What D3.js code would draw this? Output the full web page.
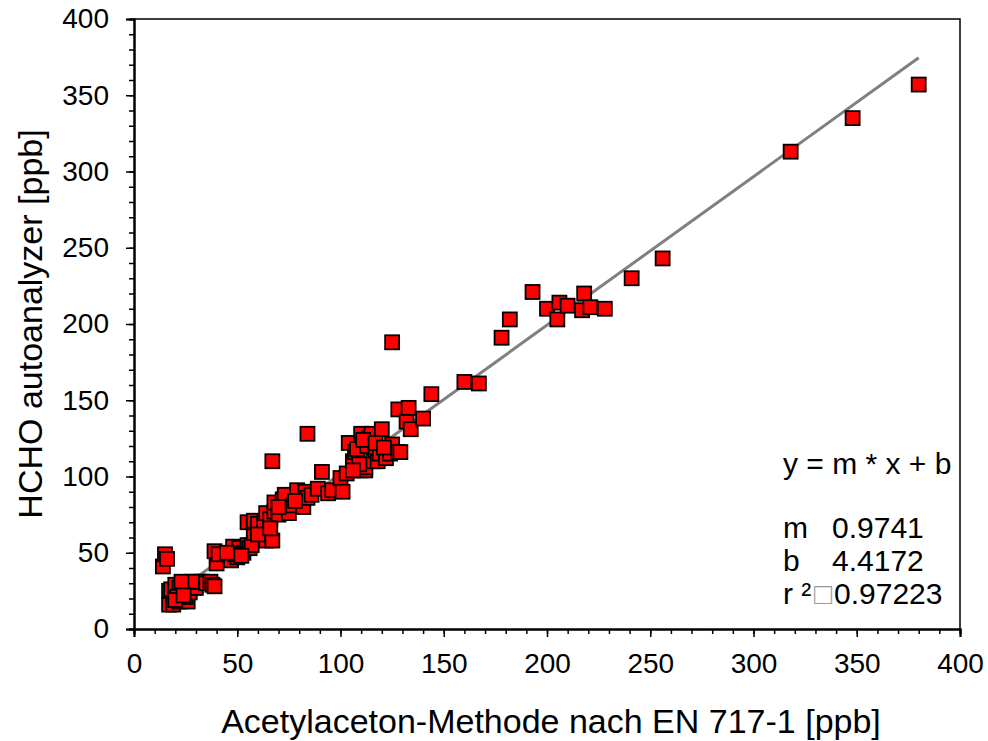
<!DOCTYPE html>
<html>
<head>
<meta charset="utf-8">
<script src="https://cdn.jsdelivr.net/npm/d3@7"></script>
<style>
  body { margin: 0; background: #ffffff; }
  text { font-family: "Liberation Sans", Arial, sans-serif; fill: #000000; }
</style>
</head>
<body>
<div class="containerGraph"></div>
<script>
// measured values: acetylaceton method (x) vs autoanalyzer (y), ppb
var xValues = [14, 15, 16, 17, 17, 19, 22, 26, 25, 21, 18, 20, 22, 24, 26, 27, 29, 30,
               31, 33, 35, 37, 38, 28, 23, 21, 20, 24, 39, 40, 39, 41,
               47, 48, 50, 51, 53, 55, 56, 57, 58, 62, 64, 67, 55, 58, 60, 63, 64, 66,
               68, 70, 68, 72, 73, 75, 77, 79, 80, 82, 83, 84, 86, 89, 91, 94, 96, 100,
               101, 103, 104, 106, 107, 108, 110, 110, 112, 112, 113, 114, 115, 116, 117,
               118, 119, 120, 122, 124, 125, 128, 128, 129, 132, 133, 134, 140, 144, 125,
               84, 67, 109, 111, 106, 117, 121, 60, 70, 78, 49, 45, 52, 66,
               160, 167, 178, 182, 193, 200, 205, 206, 210, 217, 218, 221, 228, 241, 256,
               318, 348, 380];
var yValues = [41, 49, 46, 16, 25, 16, 18, 18, 21, 24, 26, 29, 27, 28, 27, 24, 27, 27,
               31, 31, 30, 31, 29, 31, 31, 21, 19, 22, 28, 43, 51, 49,
               45, 54, 47, 53, 50, 55, 53, 55, 63, 63, 58, 58, 70, 71, 69, 70, 76, 72,
               77, 75, 83, 85, 88, 76, 81, 91, 84, 80, 90, 86, 88, 92, 103, 89, 91, 99,
               90, 102, 122, 110, 116, 118, 128, 104, 104, 106, 120, 125, 128, 110, 117,
               110, 115, 131, 112, 115, 121, 116, 144, 116, 136, 145, 131, 138, 154, 188,
               128, 110, 108, 124, 104, 122, 119, 62, 80, 84, 49, 50, 48, 66,
               162, 161, 191, 203, 221, 210, 203, 214, 212, 209, 220, 211, 210, 230, 243,
               313, 335, 357];

// regression parameters shown in the chart
var fitM = 0.9741;
var fitB = 4.4172;
var fitText = ["y = m * x + b", "m", "0.9741", "b", "4.4172", "r ²", "0.97223"];

// tick values
var majorTicks = [0, 50, 100, 150, 200, 250, 300, 350, 400];
var minorTicks = d3.range(0, 401, 10);

var width = 988;
var height = 741;
var plot = {left: 134, right: 960, top: 19, bottom: 629};

var svg = d3.select(".containerGraph")
            .append("svg")
            .attr("width", width)
            .attr("height", height);

// scales
var xScale = d3.scaleLinear()
               .domain([0, 400])
               .range([plot.left, plot.right]);

var yScale = d3.scaleLinear()
               .domain([0, 400])
               .range([plot.bottom, plot.top]);

// frame on top and right side
svg.append("path")
   .attr("d", "M" + plot.left + "," + plot.top + "H" + plot.right + "V" + plot.bottom)
   .attr("fill", "none")
   .attr("stroke", "#000000")
   .attr("stroke-width", 1.5);

// minor ticks
var xMinor = d3.axisBottom(xScale).tickValues(minorTicks).tickSize(5).tickFormat("");
var yMinor = d3.axisLeft(yScale).tickValues(minorTicks).tickSize(5).tickFormat("");

svg.append("g")
   .attr("transform", "translate(0," + plot.bottom + ")")
   .call(xMinor);
svg.append("g")
   .attr("transform", "translate(" + plot.left + ",0)")
   .call(yMinor);

// major ticks and labels
var xAxis = d3.axisBottom(xScale).tickValues(majorTicks).tickSize(8).tickPadding(16);
var yAxis = d3.axisLeft(yScale).tickValues(majorTicks).tickSize(8).tickPadding(17);

svg.append("g")
   .attr("class", "xAxis")
   .attr("transform", "translate(0," + plot.bottom + ")")
   .call(xAxis);
svg.append("g")
   .attr("class", "yAxis")
   .attr("transform", "translate(" + plot.left + ",0)")
   .call(yAxis);

svg.selectAll(".xAxis text, .yAxis text")
   .style("font-size", "28px")
   .style("font-family", "Liberation Sans, Arial, sans-serif");

svg.selectAll(".domain")
   .attr("stroke", "#000000")
   .attr("stroke-width", 2);
svg.selectAll(".tick line")
   .attr("stroke", "#000000")
   .attr("stroke-width", 1.5);

// trend line
svg.append("line")
   .attr("x1", xScale(d3.min(xValues)))
   .attr("y1", yScale(fitM * d3.min(xValues) + fitB))
   .attr("x2", xScale(d3.max(xValues)))
   .attr("y2", yScale(fitM * d3.max(xValues) + fitB))
   .attr("stroke", "#808080")
   .attr("stroke-width", 3);

// square markers
var size = 14;
svg.selectAll(".point")
   .data(d3.range(xValues.length))
   .enter()
   .append("rect")
   .attr("class", "point")
   .attr("x", function(i) { return xScale(xValues[i]) - size / 2; })
   .attr("y", function(i) { return yScale(yValues[i]) - size / 2; })
   .attr("width", size)
   .attr("height", size)
   .attr("fill", "#ff0000")
   .attr("stroke", "#000000")
   .attr("stroke-width", 1.8);

// axis titles
svg.append("text")
   .attr("x", 551)
   .attr("y", 733)
   .attr("text-anchor", "middle")
   .style("font-size", "34px")
   .text("Acetylaceton-Methode nach EN 717-1 [ppb]");

svg.append("text")
   .attr("transform", "translate(42," + (plot.top + plot.bottom) / 2 + ") rotate(-90)")
   .attr("text-anchor", "middle")
   .style("font-size", "34px")
   .text("HCHO autoanalyzer [ppb]");

// regression text
svg.append("text")
   .attr("x", 783).attr("y", 474)
   .style("font-size", "30px")
   .text(fitText[0]);

var rows = [[fitText[1], fitText[2], 538], [fitText[3], fitText[4], 571]];
rows.forEach(function(r) {
    svg.append("text").attr("x", 783).attr("y", r[2]).style("font-size", "30px").text(r[0]);
    svg.append("text").attr("x", 832).attr("y", r[2]).style("font-size", "30px").text(r[1]);
});

var r2 = svg.append("text")
            .attr("x", 783).attr("y", 604)
            .style("font-size", "30px");
r2.append("tspan").text(fitText[5]);
r2.append("tspan").attr("x", 814).style("fill", "#9a9a9a").text("\u25A1");
r2.append("tspan").attr("x", 834).text(fitText[6]);
</script>
</body>
</html>
